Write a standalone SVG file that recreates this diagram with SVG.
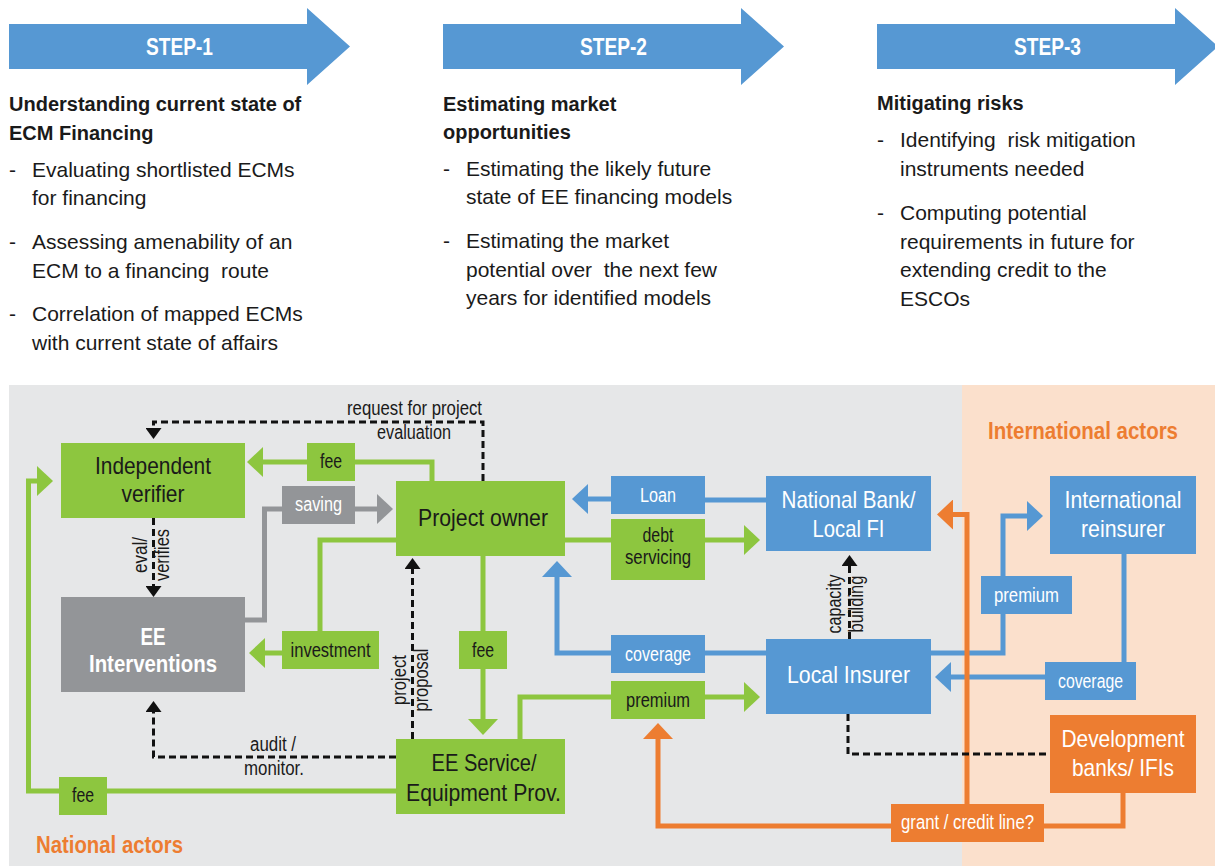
<svg xmlns="http://www.w3.org/2000/svg" width="1215" height="866" viewBox="0 0 1215 866">
<style>
text{font-family:"Liberation Sans",Arial,sans-serif;fill:#1a1a1a}
.h{font-size:20px;font-weight:bold}
.b{font-size:21px;white-space:pre}
.st{font-size:24px;font-weight:bold;fill:#fff;text-anchor:middle}
.n{font-size:24px;text-anchor:middle}
.w{fill:#fff}
.bw{font-weight:bold}
.l{font-size:20px;text-anchor:middle}
.s{font-size:20px}
.rt{font-size:24px;font-weight:bold;fill:#ed7d31}
.g{fill:#8dc63f}.bl{fill:#5698d3}.gr{fill:#939598}.or{fill:#ed7d31}
.cg{fill:none;stroke:#8dc63f;stroke-width:5}
.cb{fill:none;stroke:#5698d3;stroke-width:5}
.cgr{fill:none;stroke:#939598;stroke-width:5}
.co{fill:none;stroke:#ed7d31;stroke-width:5}
.cd{fill:none;stroke:#111;stroke-width:3;stroke-dasharray:7 4}
</style>
<defs>
<marker id="ag" viewBox="0 0 16 30" markerWidth="16" markerHeight="30" refX="0" refY="15" orient="auto" markerUnits="userSpaceOnUse"><path d="M0,0 L16,15 L0,30 z" fill="#8dc63f"/></marker>
<marker id="ab" viewBox="0 0 16 30" markerWidth="16" markerHeight="30" refX="0" refY="15" orient="auto" markerUnits="userSpaceOnUse"><path d="M0,0 L16,15 L0,30 z" fill="#5698d3"/></marker>
<marker id="agr" viewBox="0 0 16 30" markerWidth="16" markerHeight="30" refX="0" refY="15" orient="auto" markerUnits="userSpaceOnUse"><path d="M0,0 L16,15 L0,30 z" fill="#939598"/></marker>
<marker id="ao" viewBox="0 0 16 30" markerWidth="16" markerHeight="30" refX="0" refY="15" orient="auto" markerUnits="userSpaceOnUse"><path d="M0,0 L16,15 L0,30 z" fill="#ed7d31"/></marker>
<marker id="ak" viewBox="0 0 11 16" markerWidth="11" markerHeight="16" refX="0" refY="8" orient="auto" markerUnits="userSpaceOnUse"><path d="M0,0 L11,8 L0,16 z" fill="#111"/></marker>
</defs>
<rect width="1215" height="866" fill="#fff"/>

<g id="steps">
<path class="bl" d="M9,24 H307 V8 L350,46.5 L307,85 V69 H9 z"/>
<text class="st" x="179.5" y="55" textLength="67" lengthAdjust="spacingAndGlyphs">STEP-1</text>
<path class="bl" d="M443,24 H741 V8 L784,46.5 L741,85 V69 H443 z"/>
<text class="st" x="613.5" y="55" textLength="67" lengthAdjust="spacingAndGlyphs">STEP-2</text>
<path class="bl" d="M877,24 H1175 V8 L1218,46.5 L1175,85 V69 H877 z"/>
<text class="st" x="1047.5" y="55" textLength="67" lengthAdjust="spacingAndGlyphs">STEP-3</text>
</g>

<g id="step1-text">
<text class="h" x="9" y="111">Understanding current state of</text>
<text class="h" x="9" y="140">ECM Financing</text>
<text class="b" x="9" y="177">-</text>
<text class="b" x="32" y="177">Evaluating shortlisted ECMs</text>
<text class="b" x="32" y="205">for financing</text>
<text class="b" x="9" y="249">-</text>
<text class="b" x="32" y="249">Assessing amenability of an</text>
<text class="b" x="32" y="278" xml:space="preserve">ECM to a financing  route</text>
<text class="b" x="9" y="321">-</text>
<text class="b" x="32" y="321">Correlation of mapped ECMs</text>
<text class="b" x="32" y="350">with current state of affairs</text>
</g>
<g id="step2-text">
<text class="h" x="443" y="111">Estimating market</text>
<text class="h" x="443" y="139">opportunities</text>
<text class="b" x="443" y="176">-</text>
<text class="b" x="466" y="176">Estimating the likely future</text>
<text class="b" x="466" y="204">state of EE financing models</text>
<text class="b" x="443" y="248">-</text>
<text class="b" x="466" y="248">Estimating the market</text>
<text class="b" x="466" y="277" xml:space="preserve">potential over  the next few</text>
<text class="b" x="466" y="305">years for identified models</text>
</g>
<g id="step3-text">
<text class="h" x="877" y="110">Mitigating risks</text>
<text class="b" x="877" y="147">-</text>
<text class="b" x="900" y="147" xml:space="preserve">Identifying  risk mitigation</text>
<text class="b" x="900" y="176">instruments needed</text>
<text class="b" x="877" y="220">-</text>
<text class="b" x="900" y="220">Computing potential</text>
<text class="b" x="900" y="249">requirements in future for</text>
<text class="b" x="900" y="277">extending credit to the</text>
<text class="b" x="900" y="306">ESCOs</text>
</g>

<g id="regions">
<rect x="9" y="385" width="953" height="481" fill="#e6e7e8"/>
<rect x="962" y="385" width="253" height="481" fill="#fbe0cc"/>
<text class="rt" x="1083" y="439" text-anchor="middle" textLength="190" lengthAdjust="spacingAndGlyphs">International actors</text>
<text class="rt" x="36" y="853" textLength="147" lengthAdjust="spacingAndGlyphs">National actors</text>
</g>

<g id="connectors">
<path class="cg" d="M432,481 V462 H263" marker-end="url(#ag)"/>
<path class="cgr" d="M245,620 H264.5 V509 H377" marker-end="url(#agr)"/>
<path class="cg" d="M396,540 H320 V631"/>
<path class="cg" d="M282,653 H265" marker-end="url(#ag)"/>
<path class="cg" d="M565,540 H611"/>
<path class="cg" d="M705,540 H744" marker-end="url(#ag)"/>
<path class="cg" d="M483,556 V631"/>
<path class="cg" d="M483,669 V719" marker-end="url(#ag)"/>
<path class="cg" d="M520,739 V697 H611"/>
<path class="cg" d="M705,697 H744" marker-end="url(#ag)"/>
<path class="cg" d="M396,791 H107"/>
<path class="cg" d="M59,791 H28.5 V481 H37" marker-end="url(#ag)"/>
<path class="cb" d="M766,500 H705"/>
<path class="cb" d="M611,499 H588" marker-end="url(#ab)"/>
<path class="cb" d="M766,653 H705"/>
<path class="cb" d="M611,653 H557 V577" marker-end="url(#ab)"/>
<path class="cb" d="M931,653 H1003 V614"/>
<path class="cb" d="M1003,576 V516 H1027" marker-end="url(#ab)"/>
<path class="cb" d="M1124,554 V662"/>
<path class="cb" d="M1045,677 H951" marker-end="url(#ab)"/>
<path class="co" d="M1123,793 V826 H1044"/>
<path class="co" d="M891,826 H658 V739" marker-end="url(#ao)"/>
<path class="co" d="M967,804 V514.5 H953" marker-end="url(#ao)"/>
<path class="cd" d="M483,481 V422 H153.5 V428" marker-end="url(#ak)"/>
<path class="cd" d="M153.5,518 V586" marker-end="url(#ak)"/>
<path class="cd" d="M396,757 H153.5 V712" marker-end="url(#ak)"/>
<path class="cd" d="M412.5,739 V569" marker-end="url(#ak)"/>
<path class="cd" d="M849.5,639 V566" marker-end="url(#ak)"/>
<path class="cd" d="M848,714 V754 H1050"/>
<text class="s" x="482" y="415" text-anchor="end" textLength="135" lengthAdjust="spacingAndGlyphs">request for project</text>
<text class="s" x="451" y="439" text-anchor="end" textLength="74" lengthAdjust="spacingAndGlyphs">evaluation</text>
<text class="s" text-anchor="middle" transform="translate(147,555) rotate(-90)" textLength="36" lengthAdjust="spacingAndGlyphs">eval/</text>
<text class="s" text-anchor="middle" transform="translate(169,555) rotate(-90)" textLength="52" lengthAdjust="spacingAndGlyphs">verifies</text>
<text class="s" text-anchor="middle" transform="translate(406,680) rotate(-90)" textLength="50" lengthAdjust="spacingAndGlyphs">project</text>
<text class="s" text-anchor="middle" transform="translate(428,680) rotate(-90)" textLength="63" lengthAdjust="spacingAndGlyphs">proposal</text>
<text class="s" text-anchor="middle" transform="translate(841,604) rotate(-90)" textLength="59" lengthAdjust="spacingAndGlyphs">capacity</text>
<text class="s" text-anchor="middle" transform="translate(863,604) rotate(-90)" textLength="57" lengthAdjust="spacingAndGlyphs">building</text>
<text class="s" x="273" y="751" text-anchor="middle" textLength="46" lengthAdjust="spacingAndGlyphs">audit /</text>
<text class="s" x="274" y="775" text-anchor="middle" textLength="60" lengthAdjust="spacingAndGlyphs">monitor.</text>
</g>

<g id="lbl-fee-top"><rect class="g" x="307" y="443" width="48" height="38"/><text class="l" x="331" y="468" textLength="22" lengthAdjust="spacingAndGlyphs">fee</text></g>
<g id="lbl-saving"><rect class="gr" x="282" y="486" width="73" height="38"/><text class="l w" x="318.5" y="511" textLength="47" lengthAdjust="spacingAndGlyphs">saving</text></g>
<g id="lbl-investment"><rect class="g" x="282" y="631" width="97" height="38"/><text class="l" x="330.5" y="657" textLength="80" lengthAdjust="spacingAndGlyphs">investment</text></g>
<g id="lbl-loan"><rect class="bl" x="611" y="476" width="94" height="38"/><text class="l w" x="658" y="502" textLength="36" lengthAdjust="spacingAndGlyphs">Loan</text></g>
<g id="lbl-debt"><rect class="g" x="611" y="519" width="94" height="61"/><text class="l" x="658" y="542" textLength="31" lengthAdjust="spacingAndGlyphs">debt</text><text class="l" x="658" y="564" textLength="66" lengthAdjust="spacingAndGlyphs">servicing</text></g>
<g id="lbl-fee-mid"><rect class="g" x="459" y="631" width="48" height="38"/><text class="l" x="483" y="657" textLength="22" lengthAdjust="spacingAndGlyphs">fee</text></g>
<g id="lbl-coverage-mid"><rect class="bl" x="611" y="635" width="94" height="38"/><text class="l w" x="658" y="661" textLength="66" lengthAdjust="spacingAndGlyphs">coverage</text></g>
<g id="lbl-premium-mid"><rect class="g" x="611" y="681" width="94" height="38"/><text class="l" x="658" y="707" textLength="64" lengthAdjust="spacingAndGlyphs">premium</text></g>
<g id="lbl-fee-bottom"><rect class="g" x="59" y="777" width="48" height="38"/><text class="l" x="83" y="802" textLength="22" lengthAdjust="spacingAndGlyphs">fee</text></g>
<g id="lbl-premium-right"><rect class="bl" x="981" y="576" width="91" height="38"/><text class="l w" x="1026.5" y="602" textLength="65" lengthAdjust="spacingAndGlyphs">premium</text></g>
<g id="lbl-coverage-right"><rect class="bl" x="1045" y="662" width="91" height="38"/><text class="l w" x="1090.5" y="688" textLength="65" lengthAdjust="spacingAndGlyphs">coverage</text></g>
<g id="lbl-grant"><rect class="or" x="891" y="804" width="153" height="38"/><text class="l w" x="967.5" y="829" textLength="133" lengthAdjust="spacingAndGlyphs">grant / credit line?</text></g>

<g id="independent-verifier"><rect class="g" x="61" y="443" width="184" height="75"/><text class="n" x="153" y="474" textLength="116" lengthAdjust="spacingAndGlyphs">Independent</text><text class="n" x="153" y="502" textLength="63" lengthAdjust="spacingAndGlyphs">verifier</text></g>
<g id="ee-interventions"><rect class="gr" x="61" y="597" width="184" height="95"/><text class="n w bw" x="153" y="645" textLength="25" lengthAdjust="spacingAndGlyphs">EE</text><text class="n w bw" x="153" y="672" textLength="128" lengthAdjust="spacingAndGlyphs">Interventions</text></g>
<g id="project-owner"><rect class="g" x="396" y="481" width="169" height="75"/><text class="n" x="483" y="526" textLength="130" lengthAdjust="spacingAndGlyphs">Project owner</text></g>
<g id="ee-service"><rect class="g" x="396" y="739" width="169" height="75"/><text class="n" x="484" y="771" textLength="105" lengthAdjust="spacingAndGlyphs">EE Service/</text><text class="n" x="483.5" y="801" textLength="155" lengthAdjust="spacingAndGlyphs">Equipment Prov.</text></g>
<g id="national-bank"><rect class="bl" x="766" y="476" width="165" height="75"/><text class="n w" x="848.5" y="508" textLength="134" lengthAdjust="spacingAndGlyphs">National Bank/</text><text class="n w" x="848.5" y="537" textLength="72" lengthAdjust="spacingAndGlyphs">Local FI</text></g>
<g id="local-insurer"><rect class="bl" x="766" y="639" width="165" height="75"/><text class="n w" x="848.5" y="683" textLength="123" lengthAdjust="spacingAndGlyphs">Local Insurer</text></g>
<g id="intl-reinsurer"><rect class="bl" x="1050" y="476" width="146" height="78"/><text class="n w" x="1123" y="508" textLength="117" lengthAdjust="spacingAndGlyphs">International</text><text class="n w" x="1123" y="537" textLength="84" lengthAdjust="spacingAndGlyphs">reinsurer</text></g>
<g id="dev-banks"><rect class="or" x="1050" y="715" width="146" height="78"/><text class="n w" x="1123" y="747" textLength="123" lengthAdjust="spacingAndGlyphs">Development</text><text class="n w" x="1123" y="776" textLength="102" lengthAdjust="spacingAndGlyphs">banks/ IFIs</text></g>
</svg>
